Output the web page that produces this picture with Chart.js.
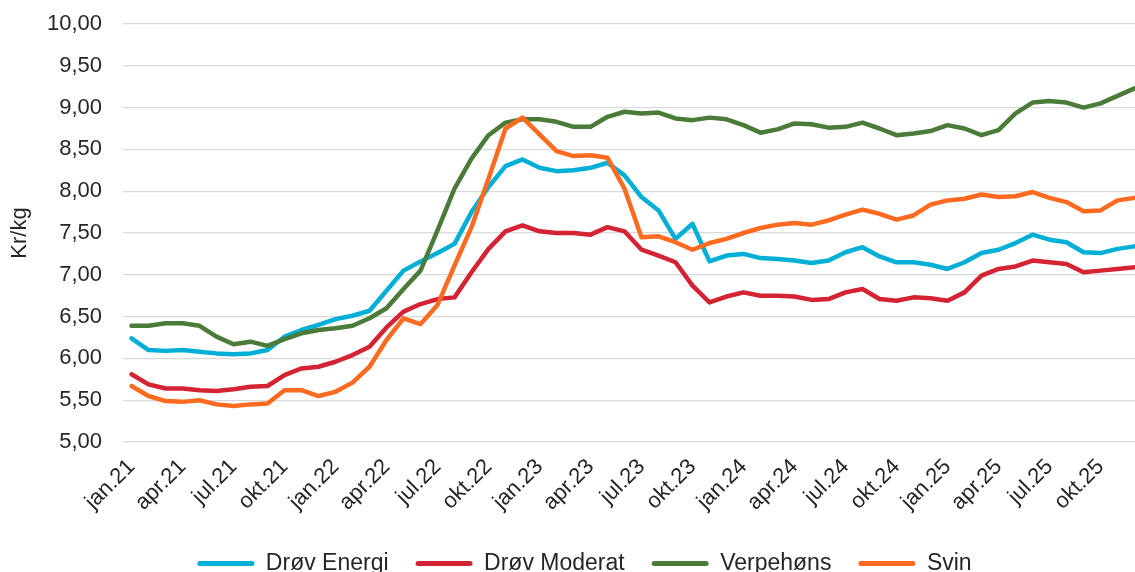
<!DOCTYPE html>
<html>
<head>
<meta charset="utf-8">
<script src="https://cdn.jsdelivr.net/npm/chart.js@4"></script>
<style>
  html, body { margin: 0; padding: 0; background: #fff; }
  #wrap { width: 1135px; height: 572px; overflow: hidden; position: relative; }
  canvas { display: block; }
</style>
</head>
<body>
<div id="wrap"><canvas id="chart" width="1143" height="585"></canvas></div>
<script>
// months, jan.21 - des.25
const months = [
  'jan.21', 'feb.21', 'mar.21', 'apr.21', 'mai.21', 'jun.21', 'jul.21', 'aug.21', 'sep.21', 'okt.21', 'nov.21', 'des.21',
  'jan.22', 'feb.22', 'mar.22', 'apr.22', 'mai.22', 'jun.22', 'jul.22', 'aug.22', 'sep.22', 'okt.22', 'nov.22', 'des.22',
  'jan.23', 'feb.23', 'mar.23', 'apr.23', 'mai.23', 'jun.23', 'jul.23', 'aug.23', 'sep.23', 'okt.23', 'nov.23', 'des.23',
  'jan.24', 'feb.24', 'mar.24', 'apr.24', 'mai.24', 'jun.24', 'jul.24', 'aug.24', 'sep.24', 'okt.24', 'nov.24', 'des.24',
  'jan.25', 'feb.25', 'mar.25', 'apr.25', 'mai.25', 'jun.25', 'jul.25', 'aug.25', 'sep.25', 'okt.25', 'nov.25', 'des.25'
];

const drovEnergi = [
  6.24, 6.10, 6.09, 6.10, 6.08, 6.06, 6.05, 6.06, 6.10, 6.26, 6.34, 6.40,
  6.47, 6.51, 6.57, 6.81, 7.05, 7.16, 7.26, 7.37, 7.75, 8.05, 8.30, 8.38,
  8.28, 8.24, 8.25, 8.28, 8.34, 8.19, 7.93, 7.77, 7.43, 7.61, 7.16, 7.23,
  7.25, 7.20, 7.19, 7.17, 7.14, 7.17, 7.27, 7.33, 7.22, 7.15, 7.15, 7.12,
  7.07, 7.15, 7.26, 7.30, 7.38, 7.48, 7.42, 7.39, 7.27, 7.26, 7.31, 7.34
];

const drovModerat = [
  5.81, 5.69, 5.64, 5.64, 5.62, 5.61, 5.63, 5.66, 5.67, 5.80, 5.88, 5.90,
  5.96, 6.04, 6.14, 6.37, 6.56, 6.65, 6.71, 6.73, 7.03, 7.31, 7.52, 7.59,
  7.52, 7.50, 7.50, 7.48, 7.57, 7.52, 7.30, 7.23, 7.15, 6.87, 6.67, 6.74,
  6.79, 6.75, 6.75, 6.74, 6.70, 6.71, 6.79, 6.83, 6.71, 6.69, 6.73, 6.72,
  6.69, 6.79, 6.99, 7.07, 7.10, 7.17, 7.15, 7.13, 7.03, 7.05, 7.07, 7.09
];

const verpehons = [
  6.39, 6.39, 6.42, 6.42, 6.39, 6.26, 6.17, 6.20, 6.15, 6.23, 6.30, 6.34,
  6.36, 6.39, 6.48, 6.60, 6.83, 7.05, 7.53, 8.03, 8.39, 8.67, 8.82, 8.86,
  8.86, 8.83, 8.77, 8.77, 8.89, 8.95, 8.93, 8.94, 8.87, 8.85, 8.88, 8.86,
  8.79, 8.70, 8.74, 8.81, 8.80, 8.76, 8.77, 8.82, 8.75, 8.67, 8.69, 8.72,
  8.79, 8.75, 8.67, 8.73, 8.93, 9.06, 9.08, 9.06, 9.00, 9.05, 9.14, 9.23
];

const svin = [
  5.67, 5.55, 5.49, 5.48, 5.50, 5.45, 5.43, 5.45, 5.46, 5.62, 5.62, 5.55,
  5.60, 5.71, 5.90, 6.22, 6.48, 6.41, 6.64, 7.11, 7.57, 8.15, 8.75, 8.88,
  8.68, 8.48, 8.42, 8.43, 8.40, 8.03, 7.45, 7.46, 7.39, 7.30, 7.38, 7.43,
  7.50, 7.56, 7.60, 7.62, 7.60, 7.65, 7.72, 7.78, 7.73, 7.66, 7.71, 7.84,
  7.89, 7.91, 7.96, 7.93, 7.94, 7.99, 7.92, 7.87, 7.76, 7.77, 7.89, 7.92
];

const yTicks = { min: 5, max: 10, step: 0.5 };

const FONT = "'Liberation Sans', Arial, sans-serif";
const TEXT = '#262626';

function series(label, data, color, order) {
  return {
    label,
    data,
    borderColor: color,
    backgroundColor: color,
    borderWidth: 4.5,
    borderJoinStyle: 'round',
    borderCapStyle: 'round',
    pointRadius: 0,
    tension: 0,
    order  // later series drawn on top, like the original
  };
}

// nudge the legend a little to the right, as in the original
const legendShift = {
  id: 'legendShift',
  afterLayout(chart) {
    if (chart.legend) {
      chart.legend.left += 13;
      chart.legend.right += 13;
    }
  }
};

new Chart(document.getElementById('chart'), {
  type: 'line',
  data: {
    labels: months,
    datasets: [
      series('Drøv Energi', drovEnergi, '#00AFD6', 3),
      series('Drøv Moderat', drovModerat, '#D42332', 2),
      series('Verpehøns', verpehons, '#4B7B38', 1),
      series('Svin', svin, '#FF6A21', 0)
    ]
  },
  options: {
    responsive: false,
    animation: false,
    layout: { padding: { top: 24, left: 0, right: 0, bottom: 0 } },
    plugins: {
      tooltip: { enabled: false },
      legend: {
        position: 'bottom',
        labels: {
          font: { family: FONT, size: 23 },
          color: TEXT,
          boxWidth: 57,
          boxHeight: 5,
          padding: 27,
          sort: (a, b) => a.datasetIndex - b.datasetIndex,
          generateLabels(chart) {
            return Chart.defaults.plugins.legend.labels.generateLabels(chart).map(item => ({
              ...item,
              lineWidth: 0,
              borderRadius: 2.5
            }));
          }
        }
      }
    },
    scales: {
      x: {
        offset: true,
        grid: { display: false, drawTicks: false },
        border: { display: false },
        ticks: {
          autoSkip: false,
          maxRotation: 45,
          minRotation: 45,
          padding: 12,
          color: TEXT,
          font: { family: FONT, size: 22 },
          callback: (value, index) => (index % 3 === 0 ? months[index] : '')
        },
        afterFit(scale) {
          scale.height = 83;
          scale.paddingLeft = 0;
          scale.paddingRight = 0;
        }
      },
      y: {
        min: yTicks.min,
        max: yTicks.max,
        grid: { color: '#D9D9D9', lineWidth: 1.3, drawTicks: false },
        border: { display: false },
        ticks: {
          stepSize: yTicks.step,
          padding: 21,
          color: TEXT,
          font: { family: FONT, size: 22 },
          callback: v => v.toFixed(2).replace('.', ',')
        },
        title: {
          display: true,
          text: 'Kr/kg',
          color: TEXT,
          font: { family: FONT, size: 22 },
          padding: { top: 7, bottom: 0 }
        },
        afterFit(scale) {
          scale.width = 123;
          scale.paddingTop = 0;
          scale.paddingBottom = 0;
        }
      }
    }
  },
  plugins: [legendShift]
});
</script>
</body>
</html>
